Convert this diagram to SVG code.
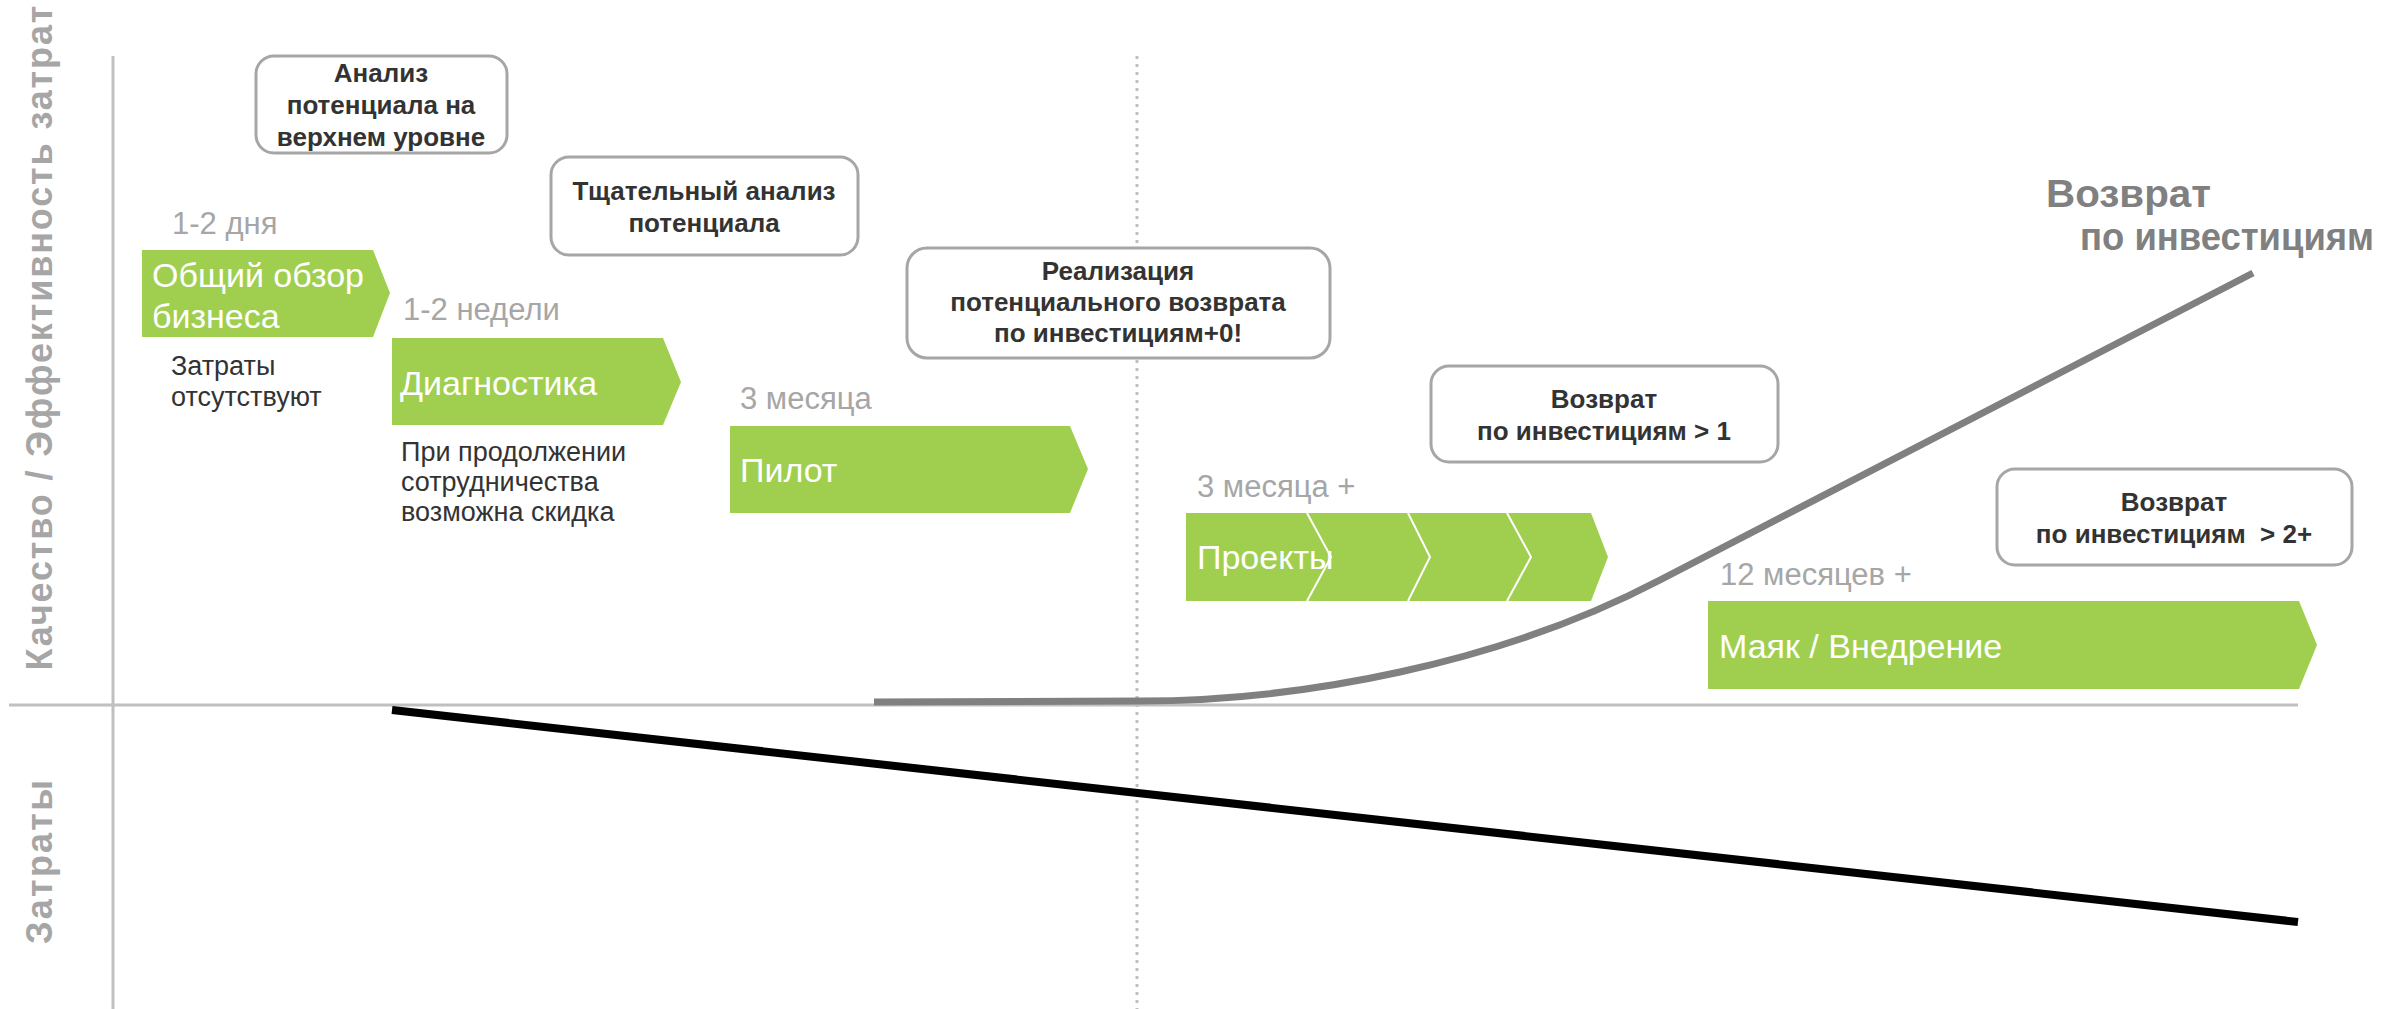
<svg xmlns="http://www.w3.org/2000/svg" width="2394" height="1009" viewBox="0 0 2394 1009">
<style>
text{font-family:"Liberation Sans",Arial,sans-serif}
.axis{stroke:#c0c0c0;stroke-width:3;fill:none}
.dot{stroke:#bfbfbf;stroke-width:3;fill:none;stroke-dasharray:3 5}
.vlab{font-size:36px;font-weight:bold;fill:#a6a6a6;text-anchor:middle}
.box{fill:#fff;stroke:#a6a6a6;stroke-width:3}
.bt{font-size:26px;font-weight:bold;fill:#333;text-anchor:middle}
.arr{fill:#a0cf50}
.at{font-size:34px;fill:#fff}
.dur{font-size:31px;fill:#a6a6a6}
.note{font-size:27px;fill:#333}
.roi{font-size:39px;font-weight:bold;fill:#808080}
</style>
<rect width="2394" height="1009" fill="#fff"/>
<g id="axes">
<line class="axis" x1="113" y1="56" x2="113" y2="1009"/>
<line class="axis" x1="9" y1="705" x2="2298" y2="705"/>
<line class="dot" x1="1137" y1="56" x2="1137" y2="1009"/>
<text class="vlab" transform="translate(52,338) rotate(-90)" textLength="665" lengthAdjust="spacing">Качество / Эффективность затрат</text>
<text class="vlab" transform="translate(52,862) rotate(-90)" textLength="164" lengthAdjust="spacing">Затраты</text>
</g>
<g id="connectors">
<path d="M874,702 L1140,701 C1300,701 1500,664 1660,580 L2253,273" fill="none" stroke="#808080" stroke-width="7"/>
<line x1="392" y1="710" x2="2298" y2="922" stroke="#000" stroke-width="8"/>
</g>
<g id="roi-label">
<text class="roi" x="2046" y="207" textLength="165" lengthAdjust="spacingAndGlyphs">Возврат</text>
<text class="roi" x="2080" y="250" textLength="294" lengthAdjust="spacingAndGlyphs">по инвестициям</text>
</g>
<g id="box-analiz-top">
<rect class="box" x="256" y="56" width="251" height="97" rx="18"/>
<text class="bt" x="381" y="82">Анализ</text>
<text class="bt" x="381" y="114">потенциала на</text>
<text class="bt" x="381" y="146">верхнем уровне</text>
</g>
<g id="box-analiz-deep">
<rect class="box" x="551" y="157" width="307" height="98" rx="18"/>
<text class="bt" x="704" y="200">Тщательный анализ</text>
<text class="bt" x="704" y="232">потенциала</text>
</g>
<g id="box-realizacia">
<rect class="box" x="907" y="248" width="423" height="110" rx="20"/>
<text class="bt" x="1118" y="280">Реализация</text>
<text class="bt" x="1118" y="311">потенциального возврата</text>
<text class="bt" x="1118" y="342">по инвестициям+0!</text>
</g>
<g id="box-roi1">
<rect class="box" x="1431" y="366" width="347" height="96" rx="18"/>
<text class="bt" x="1604" y="408">Возврат</text>
<text class="bt" x="1604" y="440">по инвестициям &gt; 1</text>
</g>
<g id="box-roi2">
<rect class="box" x="1997" y="469" width="355" height="96" rx="18"/>
<text class="bt" x="2174" y="511">Возврат</text>
<text class="bt" x="2174" y="543" xml:space="preserve">по инвестициям  &gt; 2+</text>
</g>
<g id="step-obzor">
<text class="dur" x="172" y="234">1-2 дня</text>
<path class="arr" d="M142,250 L373,250 L390,293 L373,337 L142,337 Z"/>
<text class="at" x="152" y="287">Общий обзор</text>
<text class="at" x="152" y="328">бизнеса</text>
<text class="note" x="171" y="375" font-size="28">Затраты</text>
<text class="note" x="171" y="406" font-size="28">отсутствуют</text>
</g>
<g id="step-diagnostika">
<text class="dur" x="403" y="320">1-2 недели</text>
<path class="arr" d="M392,338 L663,338 L681,382 L663,425 L392,425 Z"/>
<text class="at" x="400" y="395">Диагностика</text>
<text class="note" x="401" y="461">При продолжении</text>
<text class="note" x="401" y="491">сотрудничества</text>
<text class="note" x="401" y="521">возможна скидка</text>
</g>
<g id="step-pilot">
<text class="dur" x="740" y="409">3 месяца</text>
<path class="arr" d="M730,426 L1070,426 L1088,469 L1070,513 L730,513 Z"/>
<text class="at" x="740" y="482">Пилот</text>
</g>
<g id="step-proekty">
<text class="dur" x="1197" y="497">3 месяца +</text>
<path class="arr" d="M1186,513 L1591,513 L1608,557 L1591,601 L1186,601 Z"/>
<path d="M1307,513 L1331,557 L1307,601 M1408,513 L1430,557 L1408,601 M1507,513 L1531,557 L1507,601" fill="none" stroke="#fff" stroke-width="2"/>
<text class="at" x="1197" y="569" font-size="33">Проекты</text>
</g>
<g id="step-mayak">
<text class="dur" x="1720" y="585">12 месяцев +</text>
<path class="arr" d="M1708,601 L2299,601 L2317,645 L2299,689 L1708,689 Z"/>
<text class="at" x="1719" y="658">Маяк / Внедрение</text>
</g>
</svg>
